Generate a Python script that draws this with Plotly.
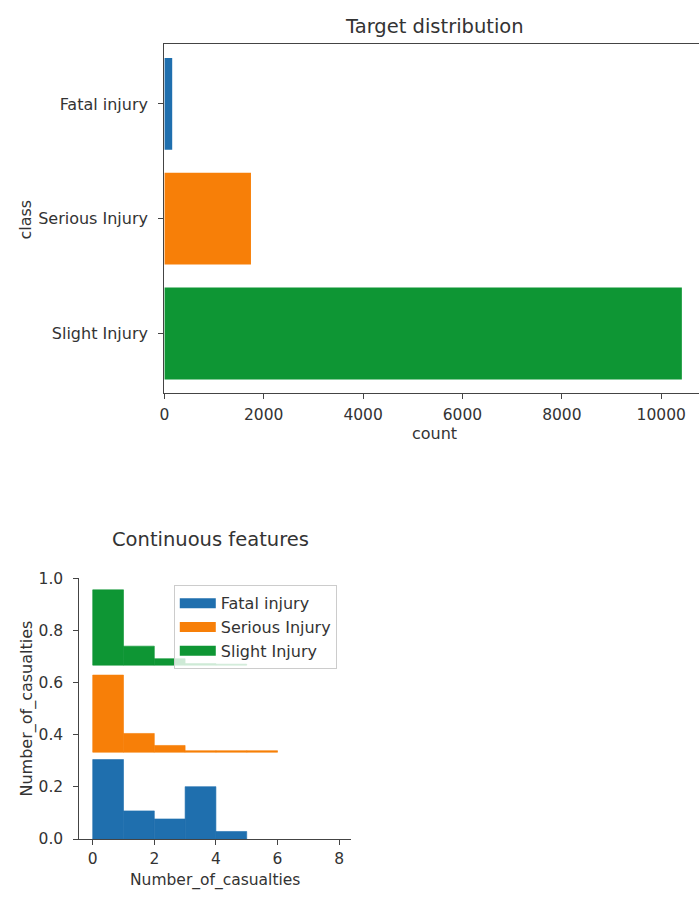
import plotly.graph_objects as go

# ---- data -------------------------------------------------------------
class_names = ["Fatal injury", "Serious Injury", "Slight Injury"]
class_counts = [158, 1743, 10415]
class_colors = ["#1f6fae", "#f77f08", "#0e9634"]

# histogram of Number_of_casualties per class (unit-width bins starting at 0),
# each class drawn in its own horizontal band
bin_left = [0, 1, 2, 3, 4, 5]
fatal_heights = [0.305, 0.108, 0.077, 0.201, 0.029]
serious_heights = [0.296, 0.072, 0.026, 0.006, 0.006, 0.006]
slight_heights = [0.289, 0.073, 0.025, 0.006, 0.004]
band_offsets = [0.0, 0.333, 0.667]

count_ticks = [0, 2000, 4000, 6000, 8000, 10000]
count_labels = ["0", "2000", "4000", "6000", "8000", "10000"]
cas_ticks = [0, 2, 4, 6, 8]
frac_ticks = [0.0, 0.2, 0.4, 0.6, 0.8, 1.0]

# ---- styling ----------------------------------------------------------
W, H = 699, 899
FONT = "DejaVu Sans"
TXT = "#333333"
LINE = "#444444"
LABEL_SIZE = 16
NUM_SIZE = 15.5
TITLE_SIZE = 19.5


def px_x(x):
    return x / W


def px_y(y):
    return 1 - y / H


fig = go.Figure()

# top panel: class counts
fig.add_trace(go.Bar(
    x=class_counts, y=class_names, orientation="h", width=0.8,
    marker=dict(color=class_colors, line=dict(width=0)),
    xaxis="x", yaxis="y", showlegend=False, hoverinfo="x+y",
))

# bottom panel: per-class histograms in stacked bands
# (a hairline outline in the fill colour keeps adjacent bins seamless)
for name, heights, base, color in zip(
        class_names, [fatal_heights, serious_heights, slight_heights],
        band_offsets, class_colors):
    fig.add_trace(go.Bar(
        x=[b + 0.5 for b in bin_left[:len(heights)]], y=heights, base=base,
        width=1.0, marker=dict(color=color, line=dict(width=0.6, color=color)),
        xaxis="x2", yaxis="y2", showlegend=False, name=name,
    ))

# legend handles
for name, color in zip(class_names, class_colors):
    fig.add_trace(go.Scatter(
        x=[None], y=[None], mode="lines", name=name,
        line=dict(color=color, width=10), xaxis="x2", yaxis="y2",
    ))

axis_common = dict(
    showline=True, linecolor=LINE, linewidth=1.3, ticks="outside",
    ticklen=5, tickwidth=1.2, tickcolor=LINE, showgrid=False, zeroline=False,
)
num_font = dict(family=FONT, size=NUM_SIZE, color=TXT)
cat_font = dict(family=FONT, size=LABEL_SIZE, color=TXT)

fig.update_layout(
    width=W, height=H,
    margin=dict(l=0, r=0, t=0, b=0),
    paper_bgcolor="white", plot_bgcolor="white",
    barmode="overlay",
    font=dict(family=FONT, size=LABEL_SIZE, color=TXT),
    xaxis=dict(domain=[px_x(160.5), 1.0], range=[0, 10760], anchor="y",
               tickvals=count_ticks, ticktext=count_labels, mirror=True,
               tickfont=num_font, ticklabelstandoff=2, **axis_common),
    yaxis=dict(domain=[px_y(392), px_y(36)], anchor="x", type="category",
               categoryorder="array", categoryarray=class_names,
               range=[2.52, -0.52], tickfont=cat_font, ticklabelstandoff=7,
               **axis_common),
    xaxis2=dict(domain=[px_x(75), px_x(348)], range=[-0.43, 8.37],
                anchor="y2", tickvals=cas_ticks, tickfont=num_font,
                ticklabelstandoff=0, **axis_common),
    yaxis2=dict(domain=[px_y(847), px_y(581)], range=[0, 1.0], anchor="x2",
                tickvals=frac_ticks, tickformat=".1f", tickfont=num_font,
                ticklabelstandoff=7, **axis_common),
    legend=dict(
        x=px_x(170), y=px_y(588), xanchor="left", yanchor="top",
        bgcolor="rgba(255,255,255,0.8)", bordercolor="#cccccc", borderwidth=1,
        font=dict(family=FONT, size=LABEL_SIZE, color=TXT), itemwidth=36,
    ),
    showlegend=True,
)

annotations = [
    dict(text="Target distribution", x=px_x(433), y=px_y(18), size=TITLE_SIZE, angle=0),
    dict(text="count", x=px_x(433), y=px_y(433), size=LABEL_SIZE, angle=0),
    dict(text="class", x=px_x(21), y=px_y(215), size=LABEL_SIZE, angle=-90),
    dict(text="Continuous features", x=px_x(207), y=px_y(541), size=TITLE_SIZE, angle=0),
    dict(text="Number_of_casualties", x=px_x(212), y=px_y(889), size=15.5, angle=0),
    dict(text="Number_of_casualties", x=px_x(22), y=px_y(714), size=LABEL_SIZE, angle=-90),
]
for a in annotations:
    fig.add_annotation(
        text=a["text"], x=a["x"], y=a["y"], xref="paper", yref="paper",
        xanchor="center", yanchor="middle", showarrow=False,
        textangle=a["angle"], font=dict(family=FONT, size=a["size"], color=TXT),
    )

fig.write_html("out.html")
